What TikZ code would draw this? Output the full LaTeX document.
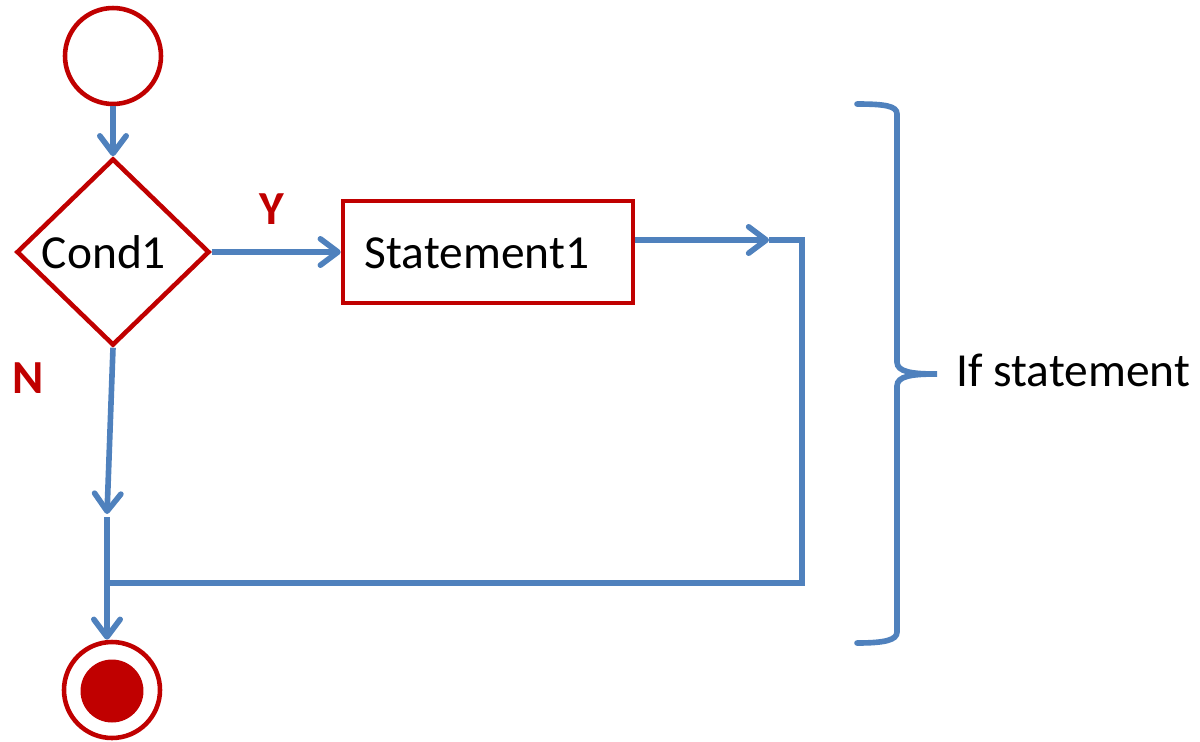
\documentclass[tikz,border=0pt]{standalone}
\usepackage{fontspec}
\setmainfont{Carlito}
\usetikzlibrary{shapes.geometric,arrows.meta}
\definecolor{ured}{HTML}{C00000}
\definecolor{ublue}{HTML}{4F81BD}
\begin{document}
\begin{tikzpicture}[x=0.02cm,y=-0.02cm,
  redline/.style={draw=ured,line width=2.6pt},
  flow/.style={draw=ublue,line width=3.2pt},
  arr/.style={flow,-{Straight Barb[length=10pt,width=15pt,line cap=round,round]}},
  txt/.style={font=\fontsize{27}{32}\selectfont,inner sep=0pt},
  lbl/.style={font=\fontsize{27}{32}\selectfont\bfseries,text=ured,inner sep=0pt}]
\useasboundingbox (0,0) rectangle (1200,741);
% start
\node[redline,circle,minimum size=1.92cm,inner sep=0pt] (start) at (113,56) {};
% decision
\node[redline,diamond,minimum width=3.86cm,minimum height=3.74cm,inner sep=0pt] (cond) at (113,252) {};
\node[txt] (condt) at (104,252) {Cond1};
% statement
\node[redline,rectangle,minimum width=5.8cm,minimum height=2.04cm,inner sep=0pt] (stmt) at (488,252) {};
\node[txt] (stmtt) at (477,253) {Statement1};
% labels
\node[lbl] (Y) at (272,209) {Y};
\node[lbl] (N) at (28,378) {N};
% end
\node[redline,circle,minimum size=1.92cm,inner sep=0pt] (fin) at (112,690) {};
\node[circle,fill=ured,minimum size=1.26cm,inner sep=0pt] (fincore) at (112,691) {};
% connectors
\coordinate (m1) at (107,514);
\coordinate (m2) at (107,517);
\coordinate (j) at (107,583);
\coordinate (a) at (769,240);
\coordinate (c1) at (802,240);
\coordinate (c2) at (802,583);
\draw[arr] (start) -- (cond.north);
\draw[arr] (cond.east) -- (stmt.west);
\draw[arr] (cond.south) -- (m1);
\draw[arr] (m2) -- (m2 |- fin.north);
\draw[arr] (stmt.east |- a) -- (a);
\draw[flow,line join=miter] (a) -- (c1) -- (c2) -- (j);
% brace
\coordinate (b1) at (857,104);
\coordinate (b2) at (857,643);
\coordinate (bt) at (937,374);
\draw[flow,line cap=round] (b1) .. controls (885,104) and (897,106) .. (897,114)
  -- (897,362) .. controls (897,372) and (912,374) .. (bt)
  .. controls (912,374) and (897,376) .. (897,386)
  -- (897,632) .. controls (897,640) and (885,643) .. (b2);
\node[txt,anchor=west] (iflbl) at (956,370) {If statement};
\end{tikzpicture}
\end{document}
